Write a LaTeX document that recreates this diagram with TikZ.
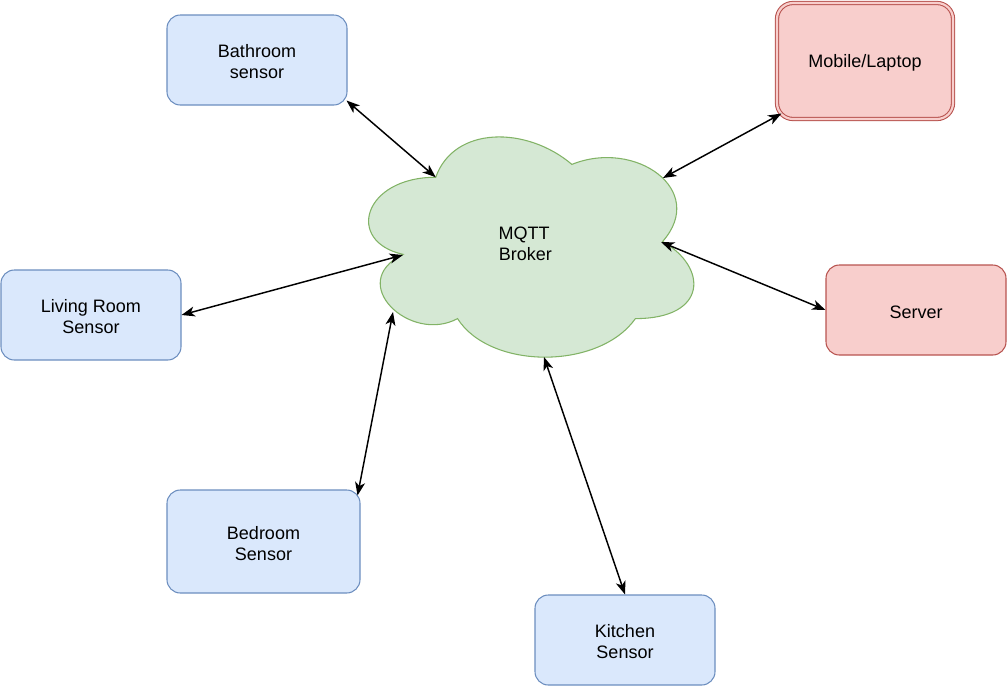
\documentclass[tikz,border=0pt]{standalone}
\usepackage{fontspec}
\setmainfont{Liberation Sans}
\usetikzlibrary{arrows.meta}
\definecolor{bfill}{HTML}{DAE8FC}
\definecolor{bline}{HTML}{6C8EBF}
\definecolor{rfill}{HTML}{F8CECC}
\definecolor{rline}{HTML}{B85450}
\definecolor{gfill}{HTML}{D5E8D4}
\definecolor{gline}{HTML}{82B366}
\tikzset{
  txt/.style={align=center, font=\fontsize{13.5}{15.8}\selectfont, text=black},
  boxtext/.style={label={[txt, yshift=-1.5pt]center:#1}},
  bluebox/.style={draw=bline, fill=bfill, rounded corners=10pt, line width=0.8pt,
    minimum width=135pt, minimum height=67.5pt, inner sep=0pt},
  redbox/.style={draw=rline, fill=rfill, rounded corners=10pt, line width=0.8pt,
    minimum width=135pt, minimum height=67.5pt, inner sep=0pt},
  link/.style={{Stealth[length=10pt,width=7.5pt,inset=2.8pt]}-{Stealth[length=10pt,width=7.5pt,inset=2.8pt]}, line width=1.1pt, black}
}
\begin{document}
\begin{tikzpicture}[x=0.75pt,y=-0.75pt]
\useasboundingbox (0,0) rectangle (1007,686);
% cloud
\draw[fill=gfill, draw=gline, line width=0.8pt]
  (435.75,177.25)
  .. controls (363.15,177.25) and (345,241.5) .. (403.08,254.35)
  .. controls (345,282.6) and (410.34,344.3) .. (457.53,318.6)
  .. controls (490.2,370) and (599.1,370) .. (635.4,318.6)
  .. controls (708,318.6) and (708,267.2) .. (662.6,241.5)
  .. controls (708,190.1) and (635.4,138.7) .. (571.9,164.4)
  .. controls (526.5,125.85) and (453.9,125.85) .. (435.75,177.25) -- cycle;
\node[txt] (broker) at (524,244) {MQTT\hspace{2pt}\\\hspace{2pt}Broker};
\coordinate (cBath) at (435.75,177.25);
\coordinate (cMob) at (663,178);
\coordinate (cLiv) at (403,255);
\coordinate (cSrv) at (661,242);
\coordinate (cBed) at (393,312);
\coordinate (cKit) at (544,357);
% boxes
\node[bluebox, boxtext={Bathroom\\sensor}] (bath) at (257,60) {};
\node[bluebox, boxtext={Living Room\\Sensor}] (living) at (91,315) {};
\node[bluebox, minimum width=144.75pt, minimum height=77.25pt, boxtext={Bedroom\\Sensor}] (bed) at (263.5,541.5) {};
\node[bluebox, boxtext={Kitchen\\Sensor}] (kitchen) at (625,640) {};
\node[redbox, boxtext={Server}] (server) at (916,310) {};
\node[redbox, double=rfill, double distance=1.6pt, rounded corners=12pt,
  minimum width=132pt, minimum height=87pt, boxtext={Mobile/Laptop}] (mob) at (865,61) {};
% connectors
\draw[link] ([shift={(-1,-5)}]bath.south east) -- (cBath);
\draw[link] ([shift={(5,-6)}]mob.south west) -- (cMob);
\draw[link] (living.east) -- (cLiv);
\draw[link] (server.west) -- (cSrv);
\draw[link] ([shift={(-3,6)}]bed.north east) -- (cBed);
\draw[link] (kitchen.north) -- (cKit);
\end{tikzpicture}
\end{document}
